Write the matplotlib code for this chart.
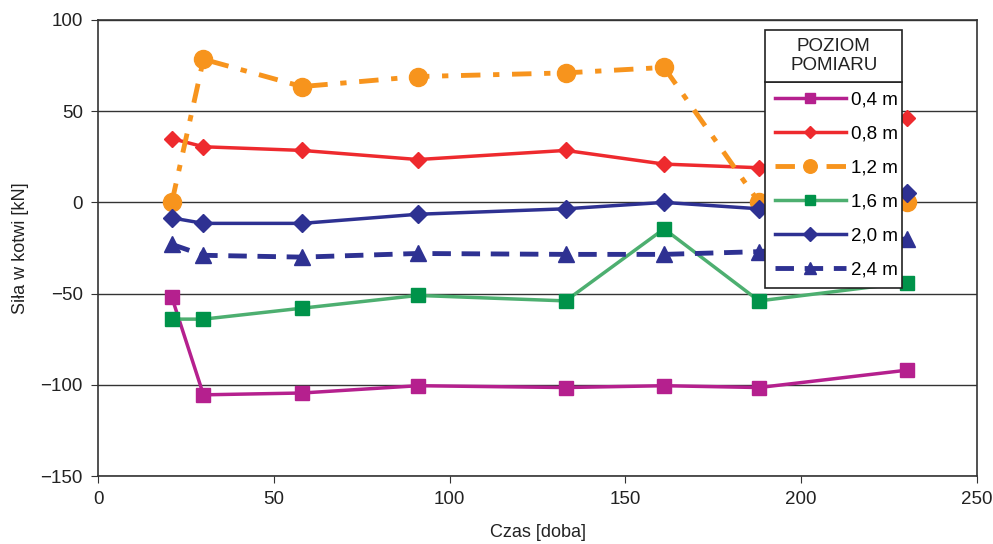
import matplotlib
matplotlib.use("Agg")
import matplotlib.pyplot as plt

plt.rcParams['font.family'] = ['Liberation Sans', 'DejaVu Sans']

# dni pomiaru
czas = [21, 30, 58, 91, 133, 161, 188, 230]

# sila w kotwi [kN] na poszczegolnych poziomach
sila_04 = [-52, -105.5, -104.5, -100.5, -101.5, -100.5, -101.5, -92]
sila_08 = [35, 30.5, 28.5, 23.5, 28.5, 21, 19, 46]
sila_12 = [0, 78.5, 63.5, 69, 71, 74, 0, 0]
sila_16 = [-64, -64, -58, -51, -54, -14.5, -54, -44]
sila_20 = [-8.5, -11.5, -11.5, -6.5, -3.5, 0, -3.5, 5]
sila_24 = [-23, -29, -30, -28, -28.5, -28.5, -27, -20]

etykiety = ['0,4 m', '0,8 m', '1,2 m', '1,6 m', '2,0 m', '2,4 m']

fig = plt.figure(figsize=(9.93, 5.44), dpi=100)
ax = fig.add_axes([98 / 993, 68 / 544, 879 / 993, 456 / 544])

ax.plot(czas, sila_04, color='#B5208E', lw=2.5, marker='s', ms=10,
        mfc='#B5208E', mec='#B5208E', label=etykiety[0], zorder=3)
ax.plot(czas, sila_08, color='#EE2A2E', lw=2.5, marker='D', ms=8,
        label=etykiety[1], zorder=3)
ax.plot(czas, sila_12, color='#F7941D', lw=3.5, marker='o', ms=13,
        dashes=[4, 2.6, 1.3, 2.6], label=etykiety[2], zorder=3)
ax.plot(czas, sila_16, color='#4DAF70', lw=2.5, marker='s', ms=10,
        mfc='#00934A', mec='#00934A', label=etykiety[3], zorder=3)
ax.plot(czas, sila_20, color='#2E3192', lw=2.5, marker='D', ms=9.5,
        label=etykiety[4], zorder=3)
ax.plot(czas, sila_24, color='#2E3192', lw=3.5, marker='^', ms=11,
        dashes=[3.8, 2.2], label=etykiety[5], zorder=3)

ax.set_xlim(0, 250)
ax.set_ylim(-150, 100)
ax.set_xticks([0, 50, 100, 150, 200, 250])
ax.set_yticks([-150, -100, -50, 0, 50, 100])
ax.yaxis.grid(True, color='#333333', lw=1)
ax.set_axisbelow(True)
for s in ax.spines.values():
    s.set_color('#333333')
    s.set_linewidth(1.2)
ax.tick_params(direction='out', length=5, color='#333333', labelsize=13.5,
               labelcolor='#222222', pad=6)
ax.set_xlabel('Czas [doba]', fontsize=13, color='#222222', labelpad=11)
ax.set_ylabel('Siła w kotwi [kN]', fontsize=13, color='#222222', labelpad=8)

# legenda z osobnym polem tytulu
x0, x1 = 0.759, 0.915
leg = ax.legend(loc='upper left', bbox_to_anchor=(x0, 0.864, x1 - x0, 0.0),
                mode='expand', fontsize=13.5, frameon=True, fancybox=False,
                edgecolor='#222222', framealpha=1, borderpad=0.5,
                labelspacing=0.9, handlelength=3.8, handletextpad=0.3,
                markerscale=0.75, borderaxespad=0)
leg.get_frame().set_linewidth(1.2)
leg.set_zorder(5)
ax.add_patch(plt.Rectangle((x0, 0.864), x1 - x0, 0.978 - 0.864,
                           transform=ax.transAxes, facecolor='white',
                           edgecolor='#222222', lw=1.2, zorder=6))
ax.text((x0 + x1) / 2, (0.864 + 0.978) / 2, 'POZIOM\nPOMIARU',
        transform=ax.transAxes, ha='center', va='center', fontsize=13.5,
        color='#222222', zorder=7, linespacing=1.15)

fig.savefig('out.png', dpi=100)
